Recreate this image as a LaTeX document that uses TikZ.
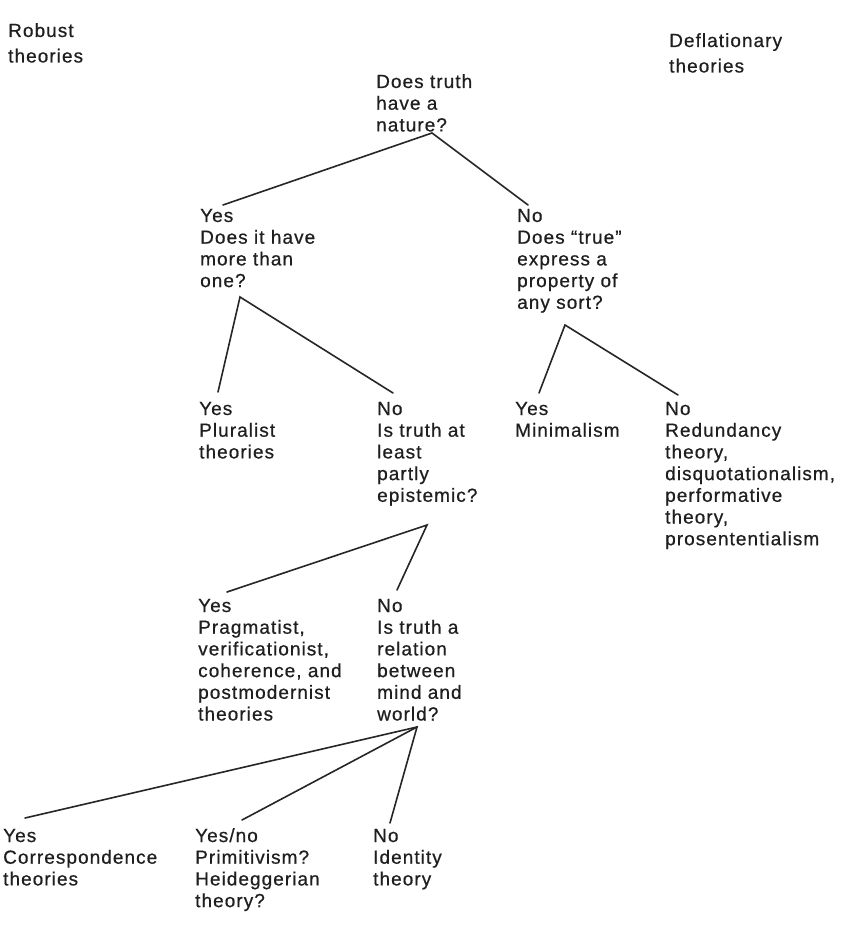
\documentclass[tikz,border=0pt]{standalone}
\usepackage{fontspec}
\setmainfont{Liberation Sans}[LetterSpace=5.5,FakeBold=0.6]
\begin{document}
\begin{tikzpicture}[x=1pt,y=-1pt,
  ink/.style={draw=black!85,line width=1.6pt,line cap=round},
  lbl/.style={anchor=base west,inner sep=0pt,text=black!88,
    font=\fontsize{19}{21.7}\selectfont},
  hdr/.style={anchor=base west,inner sep=0pt,text=black!88,
    font=\fontsize{19}{25.5}\selectfont}]
\useasboundingbox[fill=white] (0,0) rectangle (845,925);
\newcommand\stk[1]{\begin{tabular}[t]{@{}l@{}}#1\end{tabular}}
\renewcommand\arraystretch{1}
% headers
\node[hdr] (rob) at (8,37) {\stk{Robust\\theories}};
\node[hdr] (defl) at (669,47) {\stk{Deflationary\\theories}};
% questions and answers
\node[lbl] (q0) at (376,88) {\stk{Does truth\\have a\\nature?}};
\node[lbl] (y1) at (200,222) {\stk{Yes\\Does it have\\more than\\one?}};
\node[lbl] (n1) at (517,222) {\stk{No\\Does “true”\\express a\\property of\\any sort?}};
\node[lbl] (y2) at (199,415) {\stk{Yes\\Pluralist\\theories}};
\node[lbl] (n2) at (377,415) {\stk{No\\Is truth at\\least\\partly\\epistemic?}};
\node[lbl] (y3) at (515,415) {\stk{Yes\\Minimalism}};
\node[lbl] (n3) at (665,415) {\stk{No\\Redundancy\\theory,\\disquotationalism,\\performative\\theory,\\prosententialism}};
\node[lbl] (y4) at (198,612) {\stk{Yes\\Pragmatist,\\verificationist,\\coherence, and\\postmodernist\\theories}};
\node[lbl] (n4) at (377,612) {\stk{No\\Is truth a\\relation\\between\\mind and\\world?}};
\node[lbl] (y5) at (3,842) {\stk{Yes\\Correspondence\\theories}};
\node[lbl] (yn5) at (195,842) {\stk{Yes/no\\Primitivism?\\Heideggerian\\theory?}};
\node[lbl] (n5) at (373,842) {\stk{No\\Identity\\theory}};
% branch points
\coordinate (a0) at (432,133);
\coordinate (a0l) at (223,205);
\coordinate (a0r) at (528,205);
\coordinate (a1) at (240,297);
\coordinate (a1l) at (218,392);
\coordinate (a1r) at (393,393);
\coordinate (b1) at (565,325);
\coordinate (b1l) at (539,393);
\coordinate (b1r) at (678,395);
\coordinate (a2) at (427,525);
\coordinate (a2l) at (227,592);
\coordinate (a2r) at (397,590);
\coordinate (a3) at (417,727);
\coordinate (a3l) at (25,818);
\coordinate (a3m) at (242,820);
\coordinate (a3r) at (390,823);
% connectors
\draw[ink] (a0l) -- (a0) -- (a0r);
\draw[ink] (a1l) -- (a1) -- (a1r);
\draw[ink] (b1l) -- (b1) -- (b1r);
\draw[ink] (a2l) -- (a2) -- (a2r);
\draw[ink] (a3l) -- (a3) -- (a3r);
\draw[ink] (a3) -- (a3m);
\end{tikzpicture}
\end{document}
